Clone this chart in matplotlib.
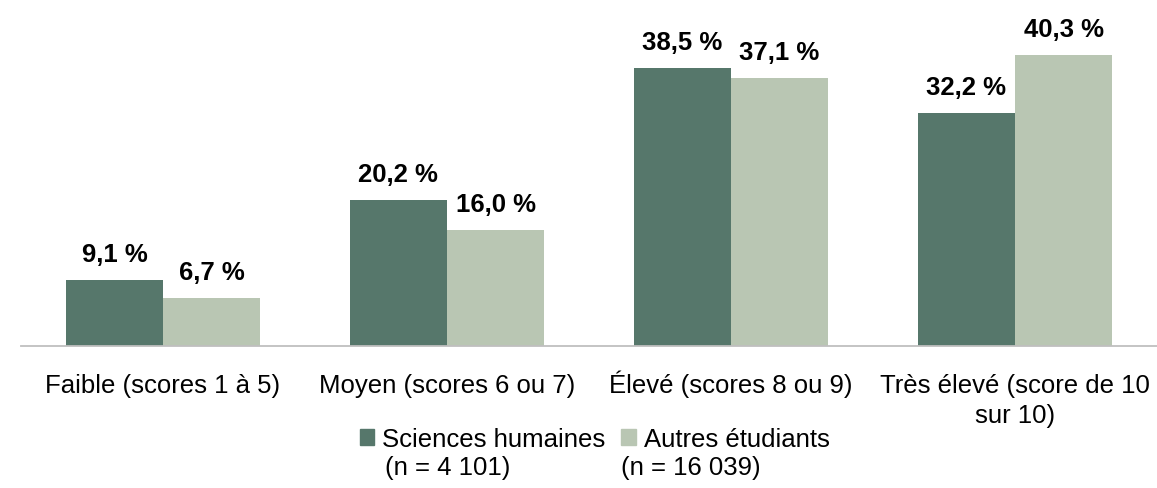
import numpy as np
import matplotlib.pyplot as plt
import matplotlib.transforms as mtransforms
from matplotlib.patches import Patch

plt.rcParams['font.family'] = ['Liberation Sans', 'DejaVu Sans']

# Données
categories = ["Faible (scores 1 à 5)", "Moyen (scores 6 ou 7)", "Élevé (scores 8 ou 9)",
              "Très élevé (score de 10\nsur 10)"]
sciences_humaines = [9.1, 20.2, 38.5, 32.2]
autres_etudiants = [6.7, 16.0, 37.1, 40.3]
series_noms = ["Sciences humaines", "Autres étudiants"]
series_n = ["(n = 4 101)", "(n = 16 039)"]

couleur_sh = "#56776b"
couleur_autres = "#b9c6b3"

fig = plt.figure(figsize=(11.57, 4.89), dpi=100)
ax = fig.add_axes([21 / 1157, 142 / 489, 1 - 21 / 1157, 347 / 489])

x = np.arange(len(categories))
w = 0.342

b1 = ax.bar(x - w / 2, sciences_humaines, w, color=couleur_sh)
b2 = ax.bar(x + w / 2, autres_etudiants, w, color=couleur_autres)

for bars in (b1, b2):
    for b in bars:
        val = f"{b.get_height():.1f}".replace(".", ",") + " %"
        ax.annotate(val, (b.get_x() + b.get_width() / 2, b.get_height()),
                    xytext=(0, 10), textcoords="offset points",
                    ha="center", va="bottom", fontsize=18.5, fontweight="bold")

ax.set_xlim(-0.5, len(categories) - 0.5)
ax.set_ylim(0, 48)
ax.set_xticks(x)
ax.set_xticklabels([])
ax.tick_params(axis="x", length=0)
ax.set_yticks([])
for s in ["top", "right", "left"]:
    ax.spines[s].set_visible(False)
ax.spines["bottom"].set_color("#bfbfbf")
ax.spines["bottom"].set_linewidth(1.3)

# Étiquettes des catégories (alignées sur la ligne de base)
base = mtransforms.blended_transform_factory(ax.transData, ax.transAxes)
for xi, cat in zip(x, categories):
    nlignes = cat.count("\n")
    dy = -(46 + 30 * nlignes) / 100
    tr = base + mtransforms.ScaledTranslation(0, dy, fig.dpi_scale_trans)
    ax.text(xi, 0, cat, transform=tr, ha="center", va="baseline",
            fontsize=18.5, linespacing=1.3)

# Légende (première ligne), la deuxième ligne est ajoutée en dessous
handles = [Patch(color=couleur_sh), Patch(color=couleur_autres)]
leg = fig.legend(handles, series_noms, loc="center", bbox_to_anchor=(0.514, 0.1),
                 ncol=2, frameon=False, fontsize=18.5, handlelength=0.58, handleheight=0.55,
                 handletextpad=0.3, columnspacing=0.62, borderaxespad=0, borderpad=0)

fig.canvas.draw()
r = fig.canvas.get_renderer()
decalages = [3, -23]
for txt, n, dx in zip(leg.get_texts(), series_n, decalages):
    bb = txt.get_window_extent(r)
    fig.text((bb.x0 + dx) / fig.bbox.width, (bb.y0 - 28) / fig.bbox.height, n,
             fontsize=18.5, ha="left", va="bottom")

fig.savefig("out.png", dpi=100)
